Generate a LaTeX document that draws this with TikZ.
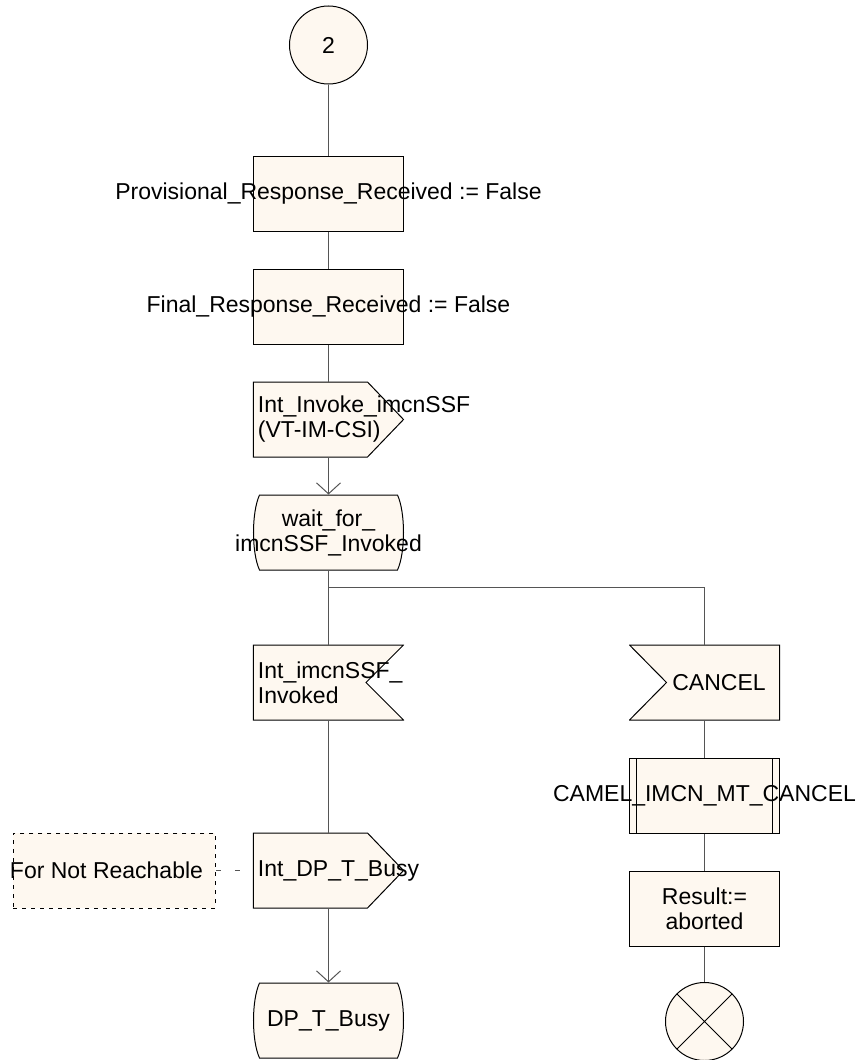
\documentclass[tikz,border=0pt]{standalone}
\usepackage{fontspec}
\setmainfont{Liberation Sans}
\usetikzlibrary{arrows.meta,positioning}

\definecolor{sdlfill}{RGB}{254,248,240}
\definecolor{sdlline}{RGB}{85,85,85}
\newcommand{\sdlfont}{\fontsize{23}{25}\selectfont}

\tikzset{
    shape line/.style={draw=black, fill=sdlfill, line width=1pt},
    sdl/.style={rectangle, minimum width=151pt, minimum height=76pt, inner sep=0pt, outer sep=0pt, align=center, font=\sdlfont},
    connector/.style={circle, shape line, minimum size=78pt, inner sep=0pt, font=\sdlfont},
    taskbox/.style={sdl, path picture={\path[shape line] (path picture bounding box.center) ++(-75pt,-37.5pt) rectangle ++(150pt,75pt);}},
    procbox/.style={sdl, path picture={\path[shape line] (path picture bounding box.center) ++(-75pt,-37.5pt) rectangle ++(150pt,75pt);
        \draw[line width=1pt] (path picture bounding box.center) ++(-68pt,-37.5pt) -- ++(0,75pt) ++(136pt,0) -- ++(0,-75pt);}},
    statebox/.style={sdl, path picture={\path[shape line] (path picture bounding box.center) ++(-69pt,37.5pt) -- ++(138pt,0)
        .. controls +(8pt,-17.5pt) and +(8pt,17.5pt) .. ++(0,-75pt) -- ++(-138pt,0)
        .. controls +(-8pt,17.5pt) and +(-8pt,-17.5pt) .. ++(0,75pt) -- cycle;}},
    outsig/.style={sdl, text width=141pt, inner xsep=5pt, align=left, path picture={\path[shape line] (path picture bounding box.center) ++(-75pt,37.5pt)
        -- ++(114pt,0) -- ++(36pt,-37.5pt) -- ++(-36pt,-37.5pt) -- ++(-114pt,0) -- cycle;}},
    insig/.style={sdl, text width=141pt, inner xsep=5pt, align=left, path picture={\path[shape line] (path picture bounding box.center) ++(-75pt,37.5pt)
        -- ++(150pt,0) -- ++(-37.5pt,-37.5pt) -- ++(37.5pt,-37.5pt) -- ++(-150pt,0) -- cycle;}},
    insigleft/.style={sdl, execute at begin node={\hspace*{29pt}}, path picture={\path[shape line] (path picture bounding box.center) ++(-75pt,37.5pt)
        -- ++(150pt,0) -- ++(0,-75pt) -- ++(-150pt,0) -- ++(37pt,37.5pt) -- cycle;}},
    stopsign/.style={circle, shape line, minimum size=78pt, inner sep=0pt, path picture={\draw[line width=1pt] (path picture bounding box.north west) -- (path picture bounding box.south east) (path picture bounding box.north east) -- (path picture bounding box.south west);}},
    notebox/.style={rectangle, shape line, dash pattern=on 4pt off 5pt, minimum width=202pt, minimum height=75pt, inner sep=0pt, font=\sdlfont, execute at begin node={\hspace*{-16pt}}},
    flowline/.style={draw=sdlline, line width=1pt}
}

\begin{document}
\begin{tikzpicture}[node distance=113pt, >={Straight Barb[length=11pt,width=24pt]}]
    \useasboundingbox (-328.5pt,45pt) rectangle (534.5pt,-1015pt);

    % Nodes
    \node (con) [connector] at (0,0) {2};
    \node (prov) [taskbox, below of=con, yshift=-35.5pt] {Provisional\_Response\_Received := False};
    \node (final) [taskbox, below of=prov] {Final\_Response\_Received := False};
    \node (invoke) [outsig, below of=final] {Int\_Invoke\_imcnSSF\\(VT-IM-CSI)};
    \node (wait) [statebox, below of=invoke] {wait\_for\_\\imcnSSF\_Invoked};
    \node (invoked) [insig, below of=wait, yshift=-37pt] {Int\_imcnSSF\_\\Invoked};
    \node (busy) [outsig, below of=invoked, yshift=-75pt] {Int\_DP\_T\_Busy};
    \node (dpbusy) [statebox, below of=busy, yshift=-37pt] {DP\_T\_Busy};
    \node (note) [notebox, left of=busy, xshift=-101pt] {For Not Reachable};
    \node (cancel) [insigleft, right of=invoked, xshift=263pt] {CANCEL};
    \node (camel) [procbox, below of=cancel] {CAMEL\_IMCN\_MT\_CANCEL};
    \node (result) [taskbox, below of=camel] {Result:=\\aborted};
    \node (stop) [stopsign, below of=result] {};

    % Edges
    \draw[flowline] (con) -- (prov);
    \draw[flowline] (prov) -- (final);
    \draw[flowline] (final) -- (invoke);
    \draw[flowline, ->] (invoke) -- (wait);
    \draw[flowline] (wait) -- (invoked);
    \draw[flowline] (wait.south) ++(0,-17pt) -| (cancel);
    \draw[flowline] (invoked) -- (busy);
    \draw[flowline, ->] (busy) -- (dpbusy);
    \draw[flowline, dash pattern=on 5pt off 14pt] (note) -- (busy);
    \draw[flowline] (cancel) -- (camel);
    \draw[flowline] (camel) -- (result);
    \draw[flowline] (result) -- (stop);
\end{tikzpicture}
\end{document}
